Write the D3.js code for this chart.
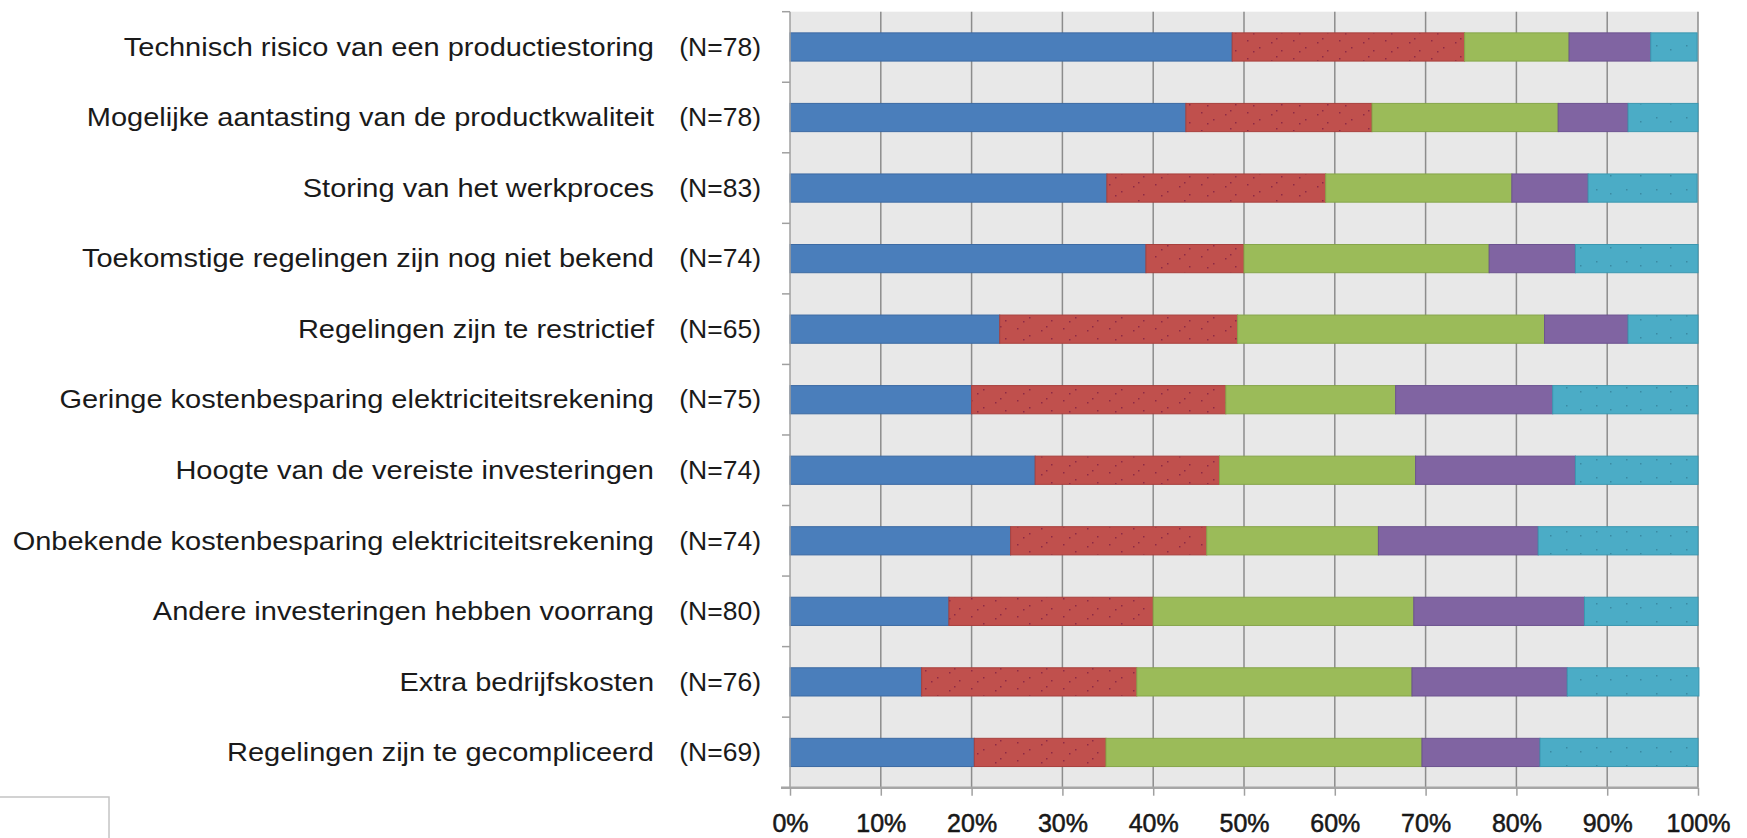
<!DOCTYPE html>
<html lang="nl">
<head>
  <meta charset="UTF-8">
  <title>Belemmeringen</title>
  <style>
    body {
      margin: 0;
      padding: 0;
      background-color: #ffffff;
      font-family: "Liberation Sans", Arial, sans-serif;
    }
    svg text {
      fill: #1a1a1a;
    }
  </style>
  <script src="https://d3js.org/d3.v7.min.js"></script>
</head>
<body>
  <div id="chart"></div>
  <script>
    // categories, top to bottom
    const categories = [
      "Technisch risico van een productiestoring",
      "Mogelijke aantasting van de productkwaliteit",
      "Storing van het werkproces",
      "Toekomstige regelingen zijn nog niet bekend",
      "Regelingen zijn te restrictief",
      "Geringe kostenbesparing elektriciteitsrekening",
      "Hoogte van de vereiste investeringen",
      "Onbekende kostenbesparing elektriciteitsrekening",
      "Andere investeringen hebben voorrang",
      "Extra bedrijfskosten",
      "Regelingen zijn te gecompliceerd"
    ];
    const respondents = [78, 78, 83, 74, 65, 75, 74, 74, 80, 76, 69];

    // share per answer (percent)
    const serie1 = [48.7, 43.6, 34.9, 39.2, 23.1, 20.0, 27.0, 24.3, 17.5, 14.5, 20.3];
    const serie2 = [25.6, 20.5, 24.1, 10.8, 26.2, 28.0, 20.3, 21.6, 22.5, 23.7, 14.5];
    const serie3 = [11.5, 20.5, 20.5, 27.0, 33.8, 18.7, 21.6, 18.9, 28.7, 30.3, 34.8];
    const serie4 = [9.0, 7.7, 8.4, 9.5, 9.2, 17.3, 17.6, 17.6, 18.8, 17.1, 13.0];
    const serie5 = [5.1, 7.7, 12.0, 13.5, 7.7, 16.0, 13.5, 17.6, 12.5, 14.5, 17.4];

    const xTicks = [0, 10, 20, 30, 40, 50, 60, 70, 80, 90, 100];

    const keys = ["s1", "s2", "s3", "s4", "s5"];
    const colors = { s1: "#4a7ebb", s2: "#c0504d", s3: "#9bbb59", s4: "#8064a2", s5: "#4bacc6" };
    const strokes = { s1: "#3c6aa3", s2: "#a8403d", s3: "#86a54a", s4: "#6c5390", s5: "#3b97b0" };

    const rows = categories.map((c, i) => ({
      name: c, n: respondents[i],
      s1: serie1[i], s2: serie2[i], s3: serie3[i], s4: serie4[i], s5: serie5[i]
    }));

    const width = 1747;
    const height = 838;
    const plot = { left: 790, right: 1698, top: 11.7, bottom: 787.7 };

    const svg = d3.select("#chart")
      .append("svg")
      .attr("width", width)
      .attr("height", height);

    // light textures like the original
    const defs = svg.append("defs");
    const redPat = defs.append("pattern")
      .attr("id", "redDots")
      .attr("width", 46).attr("height", 18)
      .attr("patternUnits", "userSpaceOnUse");
    redPat.append("rect").attr("width", 46).attr("height", 18).attr("fill", colors.s2);
    [[5, 4], [17, 11], [29, 6], [39, 14], [11, 15], [34, 2]].forEach(p => {
      redPat.append("rect").attr("x", p[0]).attr("y", p[1])
        .attr("width", 1.5).attr("height", 1.5).attr("fill", "#8e2a45");
    });
    const cyanPat = defs.append("pattern")
      .attr("id", "cyanDots")
      .attr("width", 30).attr("height", 18)
      .attr("patternUnits", "userSpaceOnUse");
    cyanPat.append("rect").attr("width", 30).attr("height", 18).attr("fill", colors.s5);
    [[6, 9], [20, 13]].forEach(p => {
      cyanPat.append("rect").attr("x", p[0]).attr("y", p[1])
        .attr("width", 1.5).attr("height", 1.5).attr("fill", "#3a8aa3");
    });
    const fills = { s1: colors.s1, s2: "url(#redDots)", s3: colors.s3, s4: colors.s4, s5: "url(#cyanDots)" };

    const x = d3.scaleLinear().domain([0, 100]).range([plot.left, plot.right]);
    const y = d3.scaleBand()
      .domain(categories)
      .range([plot.top, plot.bottom])
      .paddingInner(0.6)
      .paddingOuter(0.3);

    // plot background
    svg.append("rect")
      .attr("x", plot.left)
      .attr("y", plot.top)
      .attr("width", plot.right - plot.left)
      .attr("height", plot.bottom - plot.top)
      .attr("fill", "#e8e8e8");

    // vertical gridlines
    svg.append("g")
      .selectAll("line")
      .data(xTicks.slice(1))
      .join("line")
      .attr("x1", d => x(d)).attr("x2", d => x(d))
      .attr("y1", plot.top).attr("y2", plot.bottom)
      .attr("stroke", "#8c8c8c")
      .attr("stroke-width", 1.5);

    // stacked bars
    const stacked = d3.stack().keys(keys)(rows);
    svg.append("g")
      .selectAll("g")
      .data(stacked)
      .join("g")
      .each(function (layer) {
        d3.select(this).selectAll("rect")
          .data(layer)
          .join("rect")
          .attr("x", d => x(d[0]))
          .attr("y", d => y(d.data.name))
          .attr("width", d => x(d[1]) - x(d[0]))
          .attr("height", y.bandwidth())
          .attr("fill", fills[layer.key])
          .attr("stroke", strokes[layer.key])
          .attr("stroke-width", 1);
      });

    // left axis with ticks between the categories
    const yBounds = d3.range(categories.length + 1).map(i => plot.top + i * y.step());
    svg.append("line")
      .attr("x1", plot.left).attr("x2", plot.left)
      .attr("y1", plot.top).attr("y2", plot.bottom)
      .attr("stroke", "#a0a0a0").attr("stroke-width", 1.5);
    svg.append("g")
      .selectAll("line")
      .data(yBounds)
      .join("line")
      .attr("x1", plot.left - 8).attr("x2", plot.left)
      .attr("y1", d => d).attr("y2", d => d)
      .attr("stroke", "#a0a0a0").attr("stroke-width", 1.5);

    // bottom axis
    const xAxis = d3.axisBottom(x)
      .tickValues(xTicks)
      .tickSize(8)
      .tickSizeOuter(0)
      .tickPadding(19)
      .tickFormat(d => d + "%");
    const gx = svg.append("g")
      .attr("transform", `translate(0,${plot.bottom})`)
      .call(xAxis);
    gx.select(".domain")
      .attr("d", `M${plot.left - 9},0H${plot.right}`)
      .attr("stroke", "#a6a6a6")
      .attr("stroke-width", 2.5);
    gx.selectAll(".tick line").attr("stroke", "#a0a0a0").attr("stroke-width", 1.5);
    gx.selectAll(".tick text")
      .attr("font-family", "'Liberation Sans', Arial, sans-serif")
      .attr("font-size", 25)
      .attr("fill", "#111")
      .attr("stroke", "#111")
      .attr("stroke-width", 0.5);

    // category labels and N
    const labels = svg.append("g")
      .attr("font-size", 25);
    const sx = 1.16;
    labels.selectAll("text.cat")
      .data(rows)
      .join("text")
      .attr("class", "cat")
      .attr("text-anchor", "end")
      .attr("transform", d => `translate(654,${y(d.name) + y.bandwidth() / 2}) scale(${sx},1)`)
      .attr("dy", "0.35em")
      .text(d => d.name);
    labels.selectAll("text.n")
      .data(rows)
      .join("text")
      .attr("class", "n")
      .attr("text-anchor", "end")
      .attr("transform", d => `translate(761,${y(d.name) + y.bandwidth() / 2}) scale(1.06,1)`)
      .attr("dy", "0.35em")
      .text(d => `(N=${d.n})`);

    // empty frame in the lower left corner
    svg.append("rect")
      .attr("x", -2).attr("y", 797)
      .attr("width", 111).attr("height", 60)
      .attr("fill", "#ffffff")
      .attr("stroke", "#c4c4c4")
      .attr("stroke-width", 1.5);
  </script>
</body>
</html>
